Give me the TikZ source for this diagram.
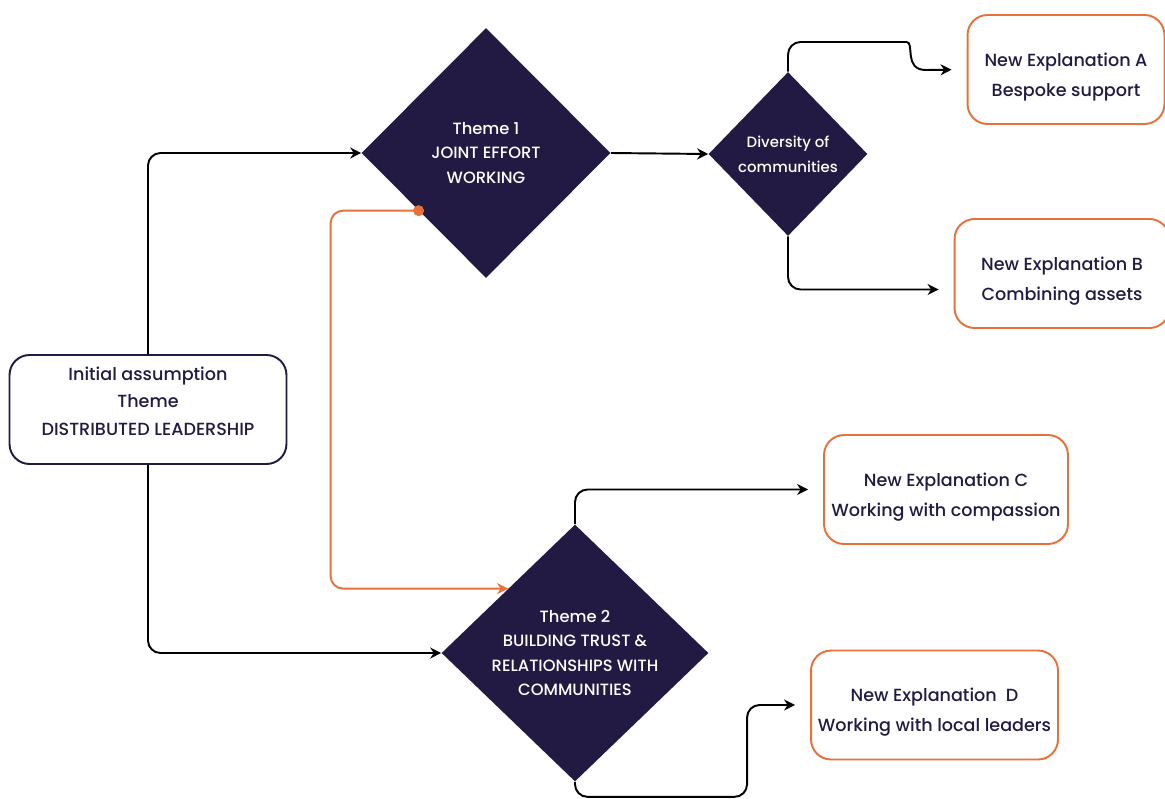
\documentclass[tikz,border=0pt]{standalone}
\usepackage{fontspec}
\setmainfont{Poppins}[UprightFont=* Medium, BoldFont=* SemiBold]
\usepackage{tikz}
\usetikzlibrary{calc}
\usetikzlibrary{arrows.meta}
\usetikzlibrary{shapes.geometric}
\definecolor{navy}{HTML}{221A42}
\definecolor{rust}{HTML}{E8703A}
\newcommand{\gap}{0.3cm}
\newcommand{\topgap}{\rule{0pt}{16pt}}
\tikzset{%
  box/.style={draw, rounded corners=0.4cm, line width=1.1pt, align=center,
    text=navy, font=\fontsize{10}{17}\selectfont, inner sep=0mm, minimum height=2.18cm},
  ibox/.style={box, draw=navy, font=\fontsize{10}{15.5}\selectfont},
  ebox/.style={box, draw=rust},
  dmd/.style={diamond, fill=navy, text=white, align=center, inner sep=0mm,
    font=\fontsize{9.3}{14}\selectfont},
  flow/.style={draw=black, line width=1.1pt, rounded corners=0.25cm,
    -{Stealth[length=2.2mm,width=2.2mm]}},
  flowo/.style={flow, draw=rust, -{Stealth[length=2.2mm,width=2.2mm]}}
}

\begin{document}
\begin{tikzpicture}[x=0.02cm, y=-0.02cm]
\useasboundingbox (0,0) rectangle (1165,798);
\clip (0,0) rectangle (1165,798);

\node[ibox, minimum width=5.54cm] at (148,409.5) (initBox) {Initial assumption\\Theme\\DISTRIBUTED LEADERSHIP\\[-6pt]};

\node[dmd, minimum width=4.98cm, minimum height=5cm] at (486,153) (themeOne) {Theme 1\\JOINT EFFORT\\WORKING};
\node[dmd, minimum width=3.18cm, minimum height=3.28cm, font=\fontsize{8.5}{14}\selectfont] at (788,154) (diversity) {Diversity of\\communities};
\node[dmd, minimum width=5.34cm, minimum height=5.14cm] at (575,653) (themeTwo) {Theme 2\\BUILDING TRUST \&\\RELATIONSHIPS WITH\\COMMUNITIES};

\node[ebox, minimum width=3.94cm] at (1066,69.5) (explA) {\topgap New Explanation A\\Bespoke support};
\node[ebox, minimum width=4.3cm] at (1062,273.5) (explB) {\topgap New Explanation B\\Combining assets};
\node[ebox, minimum width=4.88cm] at (946,489.5) (explC) {\topgap New Explanation C\\Working with compassion};
\node[ebox, minimum width=4.94cm] at (934.5,705) (explD) {\topgap New Explanation~ D\\Working with local leaders};

\coordinate (dotOne) at ($(themeOne.west)!0.46!(themeOne.south)$);

\draw[flow] (initBox.north) |- (themeOne.west);
\draw[flow] (initBox.south) |- (themeTwo.west);
\draw[flowo] (dotOne) -- ++(-88,0) |- (themeTwo.north west);
\fill[rust] (dotOne) circle (0.11cm);
\draw[flow] (themeOne.east) -- (diversity.west);

\draw[flow, shorten >=\gap] (diversity.north) |- (894,42) [sharp corners] .. controls (915,42) and (903,70) .. (926,70) -- (explA.west);
\draw[flow, shorten >=\gap] (diversity.south) |- ($(explB.west)+(0,16)$);
\draw[flow, shorten >=\gap] (themeTwo.north) |- (explC.west);
\draw[flow, shorten >=\gap] (themeTwo.south) -- ++(0,15) -| ($(explD.west)+(-63,0)$) -- (explD.west);

\end{tikzpicture}
\end{document}
